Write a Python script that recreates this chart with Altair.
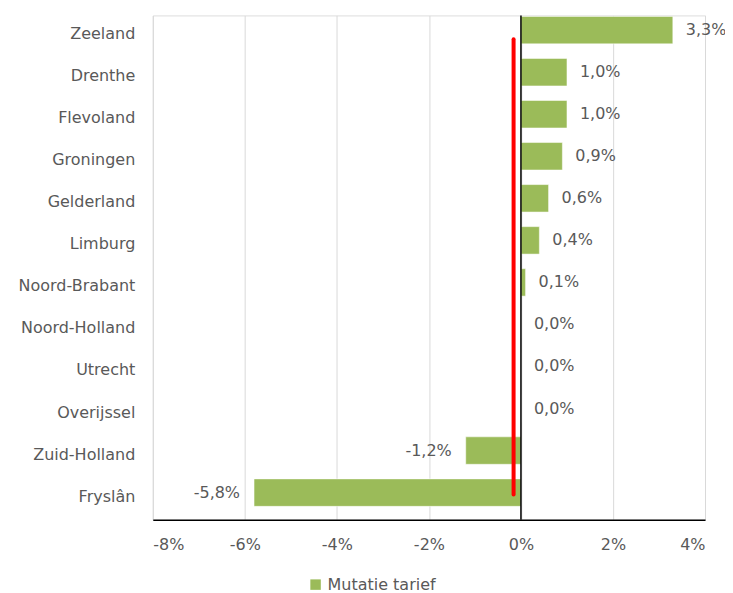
import altair as alt
import pandas as pd

provinces = ["Zeeland", "Drenthe", "Flevoland", "Groningen", "Gelderland", "Limburg",
             "Noord-Brabant", "Noord-Holland", "Utrecht", "Overijssel", "Zuid-Holland", "Fryslân"]
mutatie = [3.3, 1.0, 1.0, 0.9, 0.6, 0.4, 0.1, 0.0, 0.0, 0.0, -1.2, -5.8]
series_name = "Mutatie tarief"
red_line_value = -0.16
x_ticks = [-8, -6, -4, -2, 0, 2, 4]

df = pd.DataFrame({
    "provincie": provinces,
    "waarde": mutatie,
    "label": [f"{v:.1f}%".replace(".", ",") for v in mutatie],
    "reeks": series_name,
})

FONT = "DejaVu Sans"
GREEN = "#9bbb59"
GREY = "#595959"
FS = 16

y_scale = alt.Scale(domain=provinces, paddingInner=0.347, paddingOuter=0.171, align=0.07)
x_scale = alt.Scale(domain=[-8, 4], nice=False)

y_enc = alt.Y("provincie:N", scale=y_scale, title=None,
              axis=alt.Axis(domain=False, ticks=False, labelPadding=18, labelOffset=4,
                            labelFontSize=FS, labelColor=GREY, labelFont=FONT))
x_enc = alt.X("waarde:Q", scale=x_scale, title=None,
              axis=alt.Axis(values=x_ticks, labelExpr="datum.value + '%'",
                            grid=True, gridColor="#d9d9d9", gridWidth=1,
                            domain=True, domainColor="#000000", domainWidth=1.5,
                            ticks=False, labelPadding=17, labelFontSize=FS,
                            labelColor=GREY, labelFont=FONT))

bars = alt.Chart(df).mark_bar(stroke="white", strokeWidth=0.5).encode(
    x=x_enc,
    x2=alt.datum(0),
    y=y_enc,
    color=alt.Color("reeks:N", scale=alt.Scale(domain=[series_name], range=[GREEN]),
                    legend=alt.Legend(title=None, orient="none", legendX=155, legendY=562,
                                      symbolType="square", symbolSize=110,
                                      symbolStrokeWidth=0, labelFontSize=FS,
                                      labelColor=GREY, labelFont=FONT, labelOffset=4)),
)

labels_pos = alt.Chart(df).transform_filter("datum.waarde >= 0").mark_text(
    align="left", baseline="middle", dx=13, fontSize=FS, color=GREY, font=FONT
).encode(x=alt.X("waarde:Q", scale=x_scale), y=alt.Y("provincie:N", scale=y_scale), text="label:N")

labels_neg = alt.Chart(df).transform_filter("datum.waarde < 0").mark_text(
    align="right", baseline="middle", dx=-14, fontSize=FS, color=GREY, font=FONT
).encode(x=alt.X("waarde:Q", scale=x_scale), y=alt.Y("provincie:N", scale=y_scale), text="label:N")

zero_df = pd.DataFrame({"x": [0]})
zero_line = alt.Chart(zero_df).mark_rule(color="#000000", strokeWidth=1.5).encode(
    x=alt.X("x:Q", scale=x_scale)
)

red_df = pd.DataFrame({"x": [red_line_value], "top": [provinces[0]], "bottom": [provinces[-1]]})
red_line = alt.Chart(red_df).mark_rule(color="#ff0000", strokeWidth=4, strokeCap="round",
                                       yOffset=9, y2Offset=2).encode(
    x=alt.X("x:Q", scale=x_scale),
    y=alt.Y("top:N", scale=y_scale),
    y2="bottom:N",
)

chart = alt.layer(bars, labels_pos, labels_neg, zero_line, red_line).properties(
    width=553, height=505,
    autosize=alt.AutoSizeParams(type="none"),
    padding={"left": 145, "top": 7, "right": 20, "bottom": 90},
).configure_view(stroke=None).configure(background="white")

chart.save("out.html", embed_options={"renderer": "svg", "actions": False})
